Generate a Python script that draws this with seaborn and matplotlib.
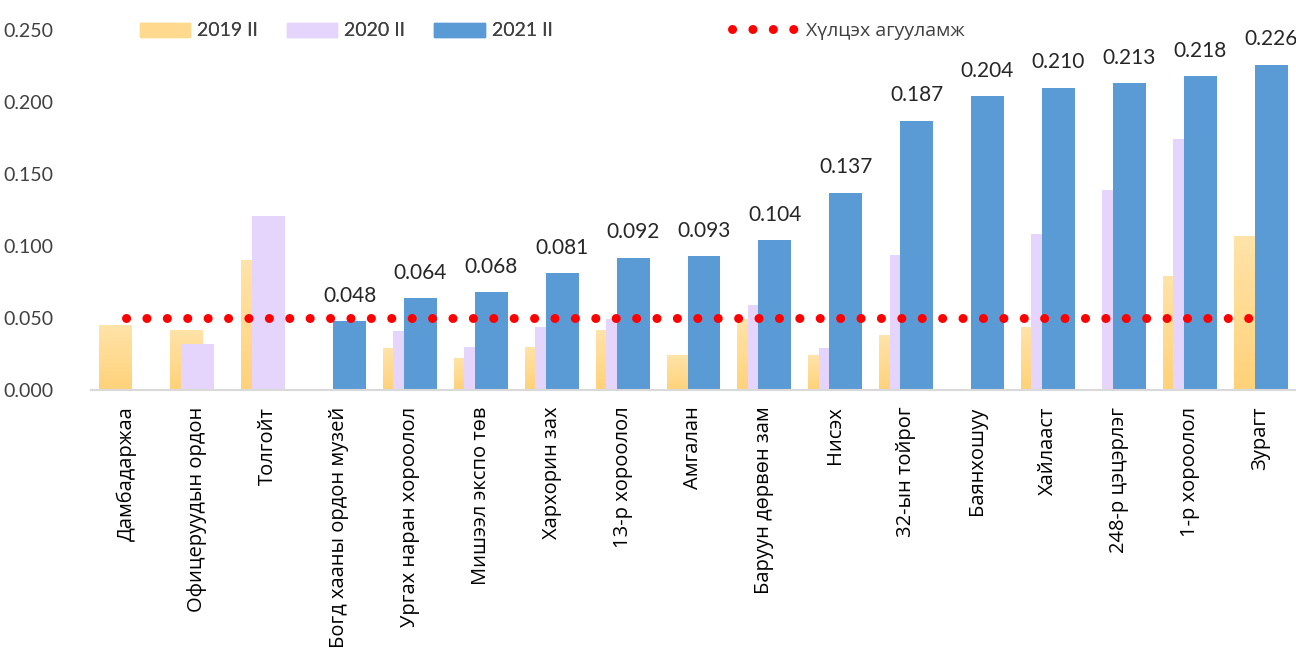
import numpy as np
import pandas as pd
import matplotlib
matplotlib.use("Agg")
import matplotlib.pyplot as plt
from matplotlib.colors import LinearSegmentedColormap
from matplotlib.lines import Line2D
import seaborn as sns

# data
categories = ["Дамбадаржаа", "Офицеруудын ордон", "Толгойт", "Богд хааны ордон музей",
              "Ургах наран хороолол", "Мишээл экспо төв", "Хархорин зах", "13-р хороолол",
              "Амгалан", "Баруун дөрвөн зам", "Нисэх", "32-ын тойрог", "Баянхошуу",
              "Хайлааст", "248-р цэцэрлэг", "1-р хороолол", "Зурагт"]
v2019 = [0.045, 0.042, 0.090, 0.0, 0.029, 0.022, 0.030, 0.042, 0.024, 0.049,
         0.024, 0.038, 0.0, 0.044, 0.0, 0.079, 0.107]
v2020 = [0.0, 0.032, 0.121, 0.0, 0.041, 0.030, 0.044, 0.049, 0.0, 0.059,
         0.029, 0.094, 0.0, 0.108, 0.139, 0.174, 0.0]
v2021 = [0.0, 0.0, 0.0, 0.048, 0.064, 0.068, 0.081, 0.092, 0.093, 0.104,
         0.137, 0.187, 0.204, 0.210, 0.213, 0.218, 0.226]
series = ["2019 II", "2020 II", "2021 II"]
threshold = 0.05
threshold_label = "Хүлцэх агууламж"

colors = ["#FFDA8E", "#E5D5FD", "#5B9BD5"]
text_col = "#404040"

df = pd.DataFrame({
    "cat": categories * 3,
    "val": v2019 + v2020 + v2021,
    "year": [s for s in series for _ in categories],
})

sns.set_theme(style="white")
plt.rcParams["font.family"] = ["Lato", "DejaVu Sans"]

fig = plt.figure(figsize=(12.96, 6.48), dpi=100)
ax = fig.add_axes([91 / 1296, 258 / 648, 1205 / 1296, 360 / 648])

sns.barplot(data=df, x="cat", y="val", hue="year", palette=colors,
            width=0.444, errorbar=None, linewidth=0, saturation=1,
            legend=False, ax=ax)

# widen the dodged bars so they overlap like in the original
bar_w = 0.465
for cont in ax.containers:
    for p in cont.patches:
        c = p.get_x() + p.get_width() / 2
        p.set_width(bar_w)
        p.set_x(c - bar_w / 2)

# soft vertical gradient on the 2019 bars (patch kept only as clip shape)
grad = LinearSegmentedColormap.from_list("g", ["#FFD27A", "#FFE3A8"])
for p in ax.containers[0].patches:
    h = p.get_height()
    p.set_alpha(0)
    if h <= 0:
        continue
    x0 = p.get_x()
    im = ax.imshow(np.linspace(0, 1, 50).reshape(-1, 1), cmap=grad, origin="lower",
                   extent=[x0, x0 + bar_w, 0, h], aspect="auto",
                   zorder=p.get_zorder() - 0.05)
    im.set_clip_path(p)

# labels on 2021 bars
labels = [f"{v:.3f}" if v > 0 else "" for v in v2021]
ax.bar_label(ax.containers[2], labels=labels, padding=11, fontsize=15, color="#262626")

# tolerance line
sns.lineplot(x=categories, y=[threshold] * len(categories), ax=ax, color="#FF0000",
             linewidth=6.5, linestyle=(0, (0.01, 2.25)), dash_capstyle="round",
             sort=False, zorder=5)

ax.set_xlim(-0.5, len(categories) - 0.5)
ax.set_ylim(0, 0.25)
ax.set_yticks(np.arange(0, 0.251, 0.05))
ax.yaxis.set_major_formatter(matplotlib.ticker.FormatStrFormatter("%.3f"))
ax.set_xlabel("")
ax.set_ylabel("")
ax.tick_params(axis="y", labelsize=14, colors=text_col, length=0, pad=27)
ax.tick_params(axis="x", length=0, pad=12)
plt.setp(ax.get_xticklabels(), rotation=90, va="top", ha="center",
         fontsize=14.5, color="black", family=["Open Sans", "DejaVu Sans"])
for s in ["top", "right", "left"]:
    ax.spines[s].set_visible(False)
ax.spines["bottom"].set_color("#D9D9D9")
ax.spines["bottom"].set_linewidth(1.5)

# legend: bars on the left, tolerance line a bit further right
handles = [plt.Rectangle((0, 0), 1, 1, color=c) for c in colors]
leg1 = fig.legend(handles, series, loc="center left",
                  bbox_to_anchor=(122 / 1296, 1 - 31 / 648), ncol=3, frameon=False,
                  fontsize=14, handlelength=2.6, handleheight=0.75, columnspacing=1.5,
                  handletextpad=0.35, labelcolor=text_col)
dot = Line2D([], [], color="#FF0000", linewidth=6.5,
             linestyle=(0, (0.01, 2.25)), dash_capstyle="round")
leg2 = fig.legend([dot], [threshold_label], loc="center left",
                  bbox_to_anchor=(715 / 1296, 1 - 31 / 648), frameon=False,
                  fontsize=14, handlelength=3.3, handletextpad=0.5,
                  labelcolor=text_col, prop={"family": ["Open Sans", "DejaVu Sans"], "size": 14})
fig.add_artist(leg1)

fig.savefig("out.png", dpi=100)
